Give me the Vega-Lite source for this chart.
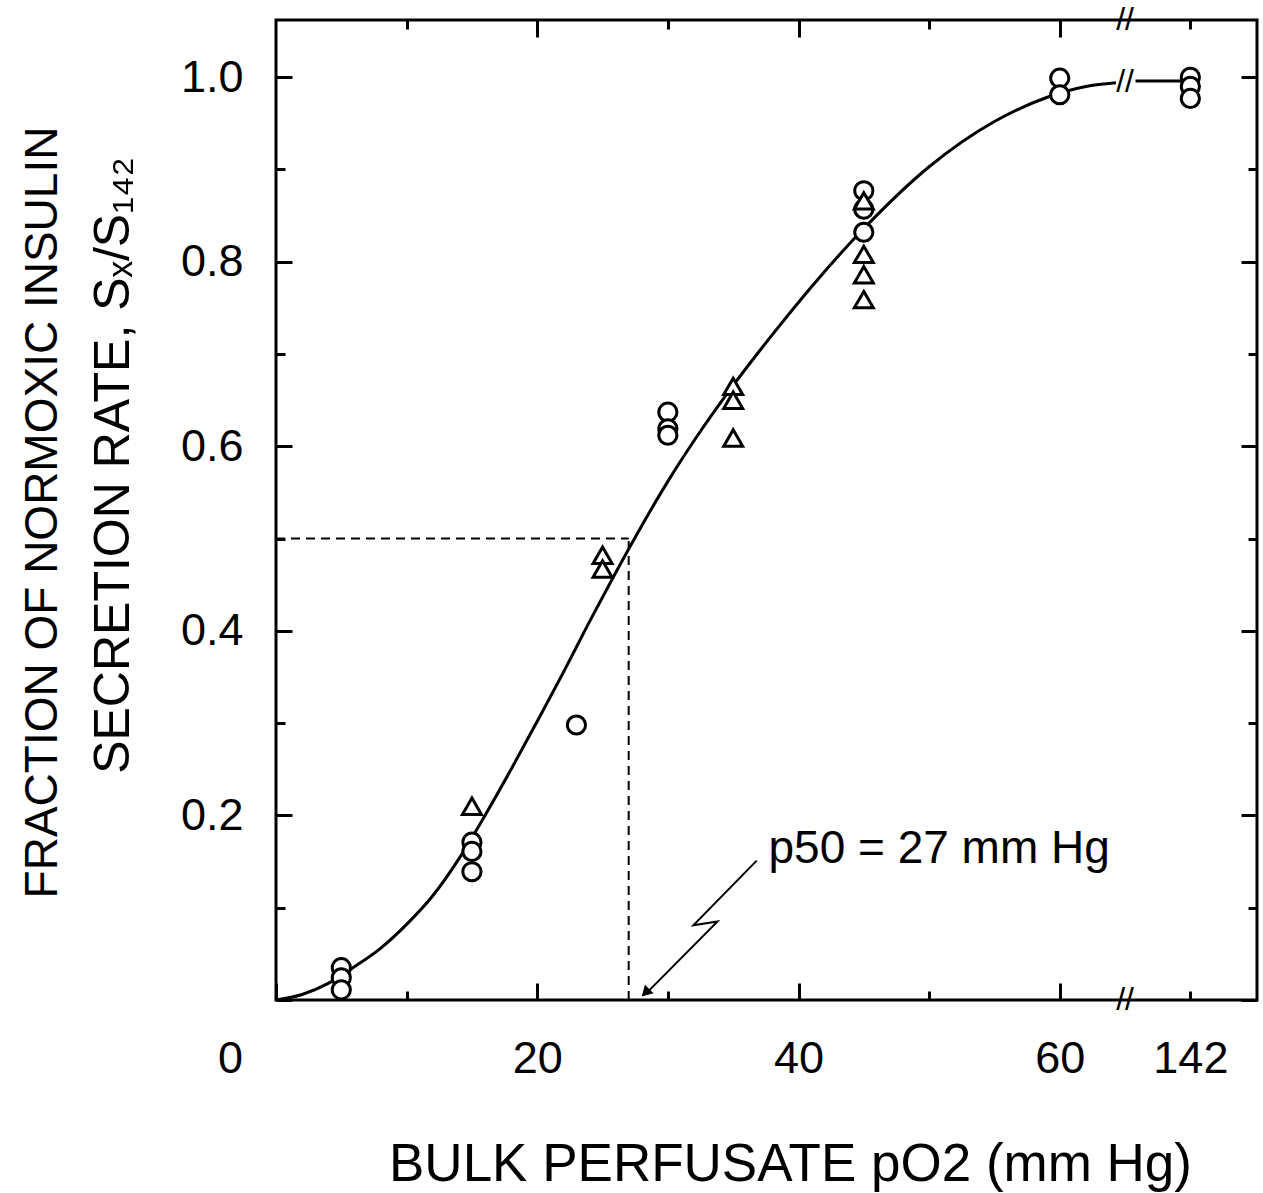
{
  "$schema": "https://vega.github.io/schema/vega-lite/v6.json",
  "width": 981,
  "height": 980,
  "autosize": {"type": "none"},
  "padding": {"left": 276, "top": 20, "right": 6, "bottom": 193},
  "background": "white",
  "config": {
    "view": {"stroke": "black", "strokeWidth": 3},
    "font": "Liberation Sans",
    "axis": {
      "domain": false,
      "grid": false,
      "tickColor": "black",
      "tickWidth": 3,
      "labelColor": "black",
      "titleColor": "black",
      "labelFont": "Liberation Sans",
      "titleFont": "Liberation Sans",
      "titleFontWeight": "normal",
      "labelFlush": false,
      "labelOverlap": false,
      "labelBound": false
    }
  },
  "datasets": {
    "circles": [
      {"x": 5, "y": 0.035}, {"x": 5, "y": 0.024}, {"x": 5, "y": 0.011},
      {"x": 15, "y": 0.171}, {"x": 15, "y": 0.161}, {"x": 15, "y": 0.139},
      {"x": 23, "y": 0.298},
      {"x": 30, "y": 0.637}, {"x": 30, "y": 0.619}, {"x": 30, "y": 0.612},
      {"x": 45, "y": 0.877}, {"x": 45, "y": 0.857}, {"x": 45, "y": 0.832},
      {"x": 60, "y": 0.999}, {"x": 60, "y": 0.981},
      {"x": 70, "y": 1.0}, {"x": 70, "y": 0.99}, {"x": 70, "y": 0.977}
    ],
    "triangles": [
      {"x": 15, "y": 0.21},
      {"x": 25, "y": 0.482}, {"x": 25, "y": 0.467},
      {"x": 35, "y": 0.665}, {"x": 35, "y": 0.65}, {"x": 35, "y": 0.609},
      {"x": 45, "y": 0.866}, {"x": 45, "y": 0.808}, {"x": 45, "y": 0.786}, {"x": 45, "y": 0.759}
    ],
    "curve": [
      {"seg": 1, "x": 0, "y": 0},
      {"seg": 1, "x": 2, "y": 0.006},
      {"seg": 1, "x": 4, "y": 0.018},
      {"seg": 1, "x": 6, "y": 0.036},
      {"seg": 1, "x": 8, "y": 0.056},
      {"seg": 1, "x": 10, "y": 0.082},
      {"seg": 1, "x": 12, "y": 0.113},
      {"seg": 1, "x": 14, "y": 0.153},
      {"seg": 1, "x": 16, "y": 0.2},
      {"seg": 1, "x": 18, "y": 0.25},
      {"seg": 1, "x": 20, "y": 0.302},
      {"seg": 1, "x": 22, "y": 0.355},
      {"seg": 1, "x": 24, "y": 0.41},
      {"seg": 1, "x": 26, "y": 0.463},
      {"seg": 1, "x": 28, "y": 0.514},
      {"seg": 1, "x": 30, "y": 0.562},
      {"seg": 1, "x": 32, "y": 0.606},
      {"seg": 1, "x": 35, "y": 0.666},
      {"seg": 1, "x": 38, "y": 0.721},
      {"seg": 1, "x": 41, "y": 0.773},
      {"seg": 1, "x": 45, "y": 0.836},
      {"seg": 1, "x": 50, "y": 0.903},
      {"seg": 1, "x": 55, "y": 0.952},
      {"seg": 1, "x": 59, "y": 0.978},
      {"seg": 1, "x": 62, "y": 0.99},
      {"seg": 1, "x": 64.3, "y": 0.994},
      {"seg": 2, "x": 65.8, "y": 0.996},
      {"seg": 2, "x": 70, "y": 0.996}
    ],
    "p50": [{"x0": 0, "x1": 27, "y0": 0, "y1": 0.5}],
    "note": [{"x": 37.7, "y": 0.149, "label": "p50 = 27 mm Hg"}],
    "zig": [
      {"order": 1, "x": 36.8, "y": 0.151},
      {"order": 2, "x": 31.95, "y": 0.081},
      {"order": 3, "x": 33.8, "y": 0.085},
      {"order": 4, "x": 28.4, "y": 0.008}
    ],
    "head": [{"x": 28.3, "y": 0.008}],
    "breaks": [{"x": 65, "y": 0}, {"x": 65, "y": 1.062}, {"x": 65, "y": 0.995}]
  },
  "layer": [
    {
      "data": {"name": "p50"},
      "mark": {"type": "rule", "strokeDash": [9, 6], "strokeWidth": 2, "color": "black"},
      "encoding": {
        "y": {"field": "y1", "type": "quantitative", "scale": {"domain": [0, 1.062], "nice": false, "zero": false}, "axis": null},
        "x": {"field": "x0", "type": "quantitative", "scale": {"domain": [0, 75.1], "nice": false, "zero": false}, "axis": null},
        "x2": {"field": "x1"}
      }
    },
    {
      "data": {"name": "p50"},
      "mark": {"type": "rule", "strokeDash": [9, 6], "strokeWidth": 2, "color": "black"},
      "encoding": {
        "x": {"field": "x1", "type": "quantitative", "axis": null},
        "y": {"field": "y0", "type": "quantitative", "axis": null},
        "y2": {"field": "y1"}
      }
    },
    {
      "data": {"name": "curve"},
      "mark": {"type": "line", "interpolate": "monotone", "color": "black", "strokeWidth": 3},
      "encoding": {
        "x": {
          "field": "x", "type": "quantitative",
          "axis": {
            "orient": "top",
            "values": [10, 20, 30, 40, 50, 60, 70],
            "labels": false,
            "tickSize": {"condition": {"test": "datum.value % 20 == 0", "value": -17}, "value": -9},
            "title": null
          }
        },
        "y": {
          "field": "y", "type": "quantitative",
          "axis": {
            "orient": "right",
            "values": [0, 0.1, 0.2, 0.3, 0.4, 0.5, 0.6, 0.7, 0.8, 0.9, 1.0],
            "labels": false,
            "tickSize": {"condition": {"test": "abs(datum.value*5 - round(datum.value*5)) < 0.001", "value": -16}, "value": -9},
            "title": "SECRETION RATE, Sₓ/S₁₄₂",
            "titleFontSize": 50,
            "titleAngle": 270,
            "titleX": -1129,
            "titleY": 445,
            "titleAlign": "center",
            "titleBaseline": "alphabetic"
          }
        },
        "detail": {"field": "seg", "type": "nominal"}
      }
    },
    {
      "data": {"name": "circles"},
      "mark": {"type": "point", "shape": "circle", "filled": true, "fill": "white", "stroke": "black", "strokeWidth": 3, "size": 330, "opacity": 1},
      "encoding": {
        "x": {
          "field": "x", "type": "quantitative",
          "axis": {
            "orient": "bottom",
            "values": [0, 10, 20, 30, 40, 50, 60, 70],
            "labelExpr": "datum.value == 70 ? '142' : (datum.value % 20 == 0 ? datum.label : '')",
            "tickSize": {"condition": {"test": "datum.value % 20 == 0", "value": -17}, "value": -9},
            "labelPadding": {"condition": {"test": "datum.value == 70", "value": 81}, "value": 89},
            "labelOffset": {"condition": {"test": "datum.value == 0", "value": -46}, "value": 0},
            "labelBaseline": "alphabetic",
            "labelFontSize": 45,
            "title": "BULK PERFUSATE pO2 (mm Hg)",
            "titleFontSize": 53,
            "titleX": 514,
            "titleY": 180,
            "titleAlign": "center",
            "titleBaseline": "alphabetic"
          }
        },
        "y": {
          "field": "y", "type": "quantitative",
          "axis": {
            "orient": "left",
            "values": [0, 0.1, 0.2, 0.3, 0.4, 0.5, 0.6, 0.7, 0.8, 0.9, 1.0],
            "labelExpr": "datum.value > 0.05 && abs(datum.value*5 - round(datum.value*5)) < 0.001 ? format(datum.value, '.1f') : ''",
            "tickSize": {"condition": {"test": "abs(datum.value*5 - round(datum.value*5)) < 0.001", "value": -16}, "value": -9},
            "labelPadding": 49,
            "labelFontSize": 45,
            "labelAlign": "right",
            "labelBaseline": "middle",
            "title": "FRACTION OF NORMOXIC INSULIN",
            "titleFontSize": 46,
            "titleAngle": 270,
            "titleX": -220,
            "titleY": 492,
            "titleAlign": "center",
            "titleBaseline": "alphabetic"
          }
        }
      }
    },
    {
      "data": {"name": "triangles"},
      "mark": {"type": "point", "shape": "triangle-up", "filled": true, "fill": "white", "stroke": "black", "strokeWidth": 3, "size": 360, "opacity": 1},
      "encoding": {
        "x": {"field": "x", "type": "quantitative", "axis": null},
        "y": {"field": "y", "type": "quantitative", "axis": null}
      }
    },
    {
      "data": {"name": "note"},
      "mark": {"type": "text", "align": "left", "baseline": "alphabetic", "fontSize": 46, "font": "Liberation Sans", "color": "black"},
      "encoding": {
        "x": {"field": "x", "type": "quantitative", "axis": null},
        "y": {"field": "y", "type": "quantitative", "axis": null},
        "text": {"field": "label"}
      }
    },
    {
      "data": {"name": "zig"},
      "mark": {"type": "line", "color": "black", "strokeWidth": 2},
      "encoding": {
        "x": {"field": "x", "type": "quantitative", "axis": null},
        "y": {"field": "y", "type": "quantitative", "axis": null},
        "order": {"field": "order", "type": "quantitative"}
      }
    },
    {
      "data": {"name": "head"},
      "mark": {"type": "point", "shape": "triangle-up", "filled": true, "fill": "black", "stroke": "black", "strokeWidth": 1, "size": 110, "angle": 225, "opacity": 1},
      "encoding": {
        "x": {"field": "x", "type": "quantitative", "axis": null},
        "y": {"field": "y", "type": "quantitative", "axis": null}
      }
    },
    {
      "data": {"name": "breaks"},
      "mark": {"type": "text", "text": "//", "fontSize": 32, "font": "Liberation Sans", "align": "center", "baseline": "middle", "color": "black"},
      "encoding": {
        "x": {"field": "x", "type": "quantitative", "axis": null},
        "y": {"field": "y", "type": "quantitative", "axis": null}
      }
    }
  ],
  "resolve": {"axis": {"x": "independent", "y": "independent"}}
}
